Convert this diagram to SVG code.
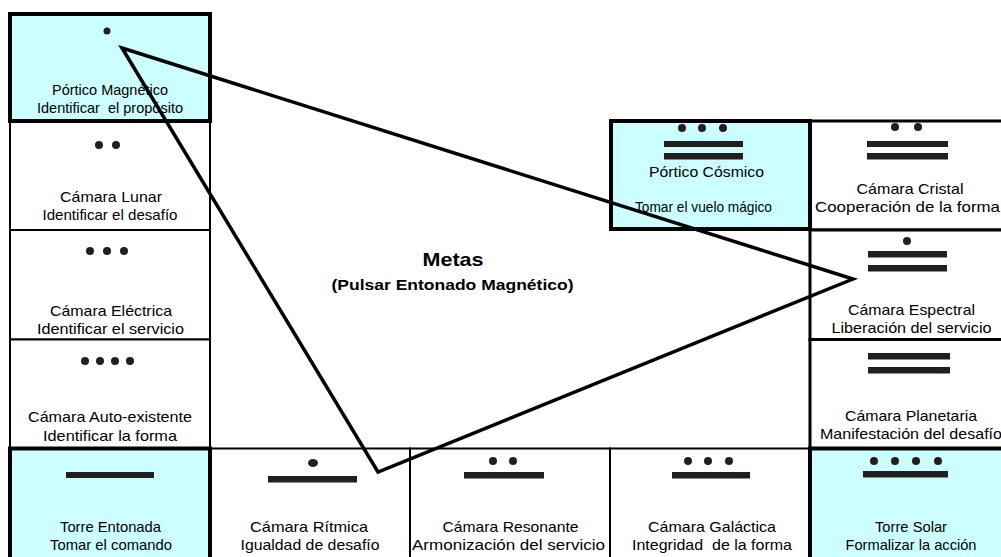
<svg xmlns="http://www.w3.org/2000/svg" width="1001" height="557" viewBox="0 0 1001 557">
<style>
.cell{fill:#ffffff;stroke:#000;stroke-width:2}
.rc{fill:#ffffff;stroke:#000;stroke-width:3}
.hi{fill:#ccffff;stroke:#000;stroke-width:4}
.d{fill:#231f20}
.t{font-family:"Liberation Sans",Arial,sans-serif;font-size:15px;fill:#000;text-anchor:middle}
.b{font-family:"Liberation Sans",Arial,sans-serif;font-weight:bold;fill:#000;text-anchor:middle}
.conn{fill:none;stroke:#000;stroke-width:3.5;stroke-linejoin:miter}
</style>
<rect x="0" y="0" width="1001" height="557" fill="#ffffff"/>

<g id="camara-lunar">
<rect class="cell" x="10" y="121" width="200" height="109"/>
<circle class="d" cx="99" cy="145" r="4"/><circle class="d" cx="116" cy="145" r="4"/>
<text class="t" x="111" y="202" textLength="102" lengthAdjust="spacingAndGlyphs">Cámara Lunar</text>
<text class="t" x="110" y="220" textLength="135" lengthAdjust="spacingAndGlyphs">Identificar el desafío</text>
</g>
<g id="camara-electrica">
<rect class="cell" x="10" y="230" width="200" height="109.5"/>
<circle class="d" cx="90" cy="251" r="4"/><circle class="d" cx="107" cy="251" r="4"/><circle class="d" cx="124" cy="251" r="4"/>
<text class="t" x="111" y="315.5" textLength="122" lengthAdjust="spacingAndGlyphs">Cámara Eléctrica</text>
<text class="t" x="110.5" y="333.5" textLength="147" lengthAdjust="spacingAndGlyphs">Identificar el servicio</text>
</g>
<g id="camara-auto-existente">
<rect class="cell" x="10" y="339.5" width="200" height="109"/>
<circle class="d" cx="85" cy="361" r="4"/><circle class="d" cx="100" cy="361" r="4"/><circle class="d" cx="115" cy="361" r="4"/><circle class="d" cx="130" cy="361" r="4"/>
<text class="t" x="110" y="422" textLength="164" lengthAdjust="spacingAndGlyphs">Cámara Auto-existente</text>
<text class="t" x="110" y="440.5" textLength="134" lengthAdjust="spacingAndGlyphs">Identificar la forma</text>
</g>
<g id="camara-ritmica">
<rect class="cell" x="210" y="448.5" width="200" height="112"/>
<ellipse class="d" cx="313" cy="463" rx="5" ry="4"/>
<rect class="d" x="268" y="476" width="89" height="6.5"/>
<text class="t" x="309" y="531.5" textLength="118" lengthAdjust="spacingAndGlyphs">Cámara Rítmica</text>
<text class="t" x="310" y="550" textLength="139" lengthAdjust="spacingAndGlyphs">Igualdad de desafío</text>
</g>
<g id="camara-resonante">
<rect class="cell" x="410" y="448.5" width="200" height="112"/>
<circle class="d" cx="493" cy="461" r="4"/><circle class="d" cx="513" cy="461" r="4"/>
<rect class="d" x="464" y="472" width="80" height="6.5"/>
<text class="t" x="510.5" y="531.5" textLength="136" lengthAdjust="spacingAndGlyphs">Cámara Resonante</text>
<text class="t" x="508.5" y="550" textLength="193" lengthAdjust="spacingAndGlyphs">Armonización del servicio</text>
</g>
<g id="camara-galactica">
<rect class="cell" x="610" y="448.5" width="200" height="112"/>
<circle class="d" cx="688" cy="461" r="4"/><circle class="d" cx="708" cy="461" r="4"/><circle class="d" cx="729" cy="461" r="4"/>
<rect class="d" x="672" y="472" width="78" height="6.5"/>
<text class="t" x="712" y="531.5" textLength="128" lengthAdjust="spacingAndGlyphs">Cámara Galáctica</text>
<text class="t" x="712" y="550" textLength="160" lengthAdjust="spacingAndGlyphs" xml:space="preserve">Integridad  de la forma</text>
</g>
<g id="camara-cristal">
<rect class="rc" x="810" y="121" width="200" height="109"/>
<circle class="d" cx="895" cy="127" r="4"/><circle class="d" cx="918" cy="127" r="4"/>
<rect class="d" x="867" y="141" width="81" height="6"/>
<rect class="d" x="867" y="153" width="81" height="6.5"/>
<text class="t" x="910" y="193.5" textLength="107" lengthAdjust="spacingAndGlyphs">Cámara Cristal</text>
<text class="t" x="907.5" y="211.5" textLength="185" lengthAdjust="spacingAndGlyphs">Cooperación de la forma</text>
</g>
<g id="camara-espectral">
<rect class="rc" x="810" y="230" width="200" height="109.5"/>
<circle class="d" cx="907" cy="241" r="4"/>
<rect class="d" x="868" y="251" width="79" height="6.5"/>
<rect class="d" x="868" y="265" width="79" height="6.5"/>
<text class="t" x="911.5" y="315" textLength="127" lengthAdjust="spacingAndGlyphs">Cámara Espectral</text>
<text class="t" x="911.5" y="333" textLength="160" lengthAdjust="spacingAndGlyphs">Liberación del servicio</text>
</g>
<g id="camara-planetaria">
<rect class="rc" x="810" y="339.5" width="200" height="109"/>
<rect class="d" x="868" y="353" width="82" height="6.5"/>
<rect class="d" x="868" y="367" width="82" height="6.5"/>
<text class="t" x="911" y="421" textLength="132" lengthAdjust="spacingAndGlyphs">Cámara Planetaria</text>
<text class="t" x="911" y="439" textLength="182" lengthAdjust="spacingAndGlyphs">Manifestación del desafío</text>
</g>

<g id="portico-magnetico">
<rect class="hi" x="10" y="14" width="200" height="107"/>
<circle class="d" cx="107" cy="31" r="3.5"/>
<text class="t" x="110" y="94.5" textLength="116" lengthAdjust="spacingAndGlyphs">Pórtico Magnético</text>
<text class="t" x="110" y="112.5" textLength="146" lengthAdjust="spacingAndGlyphs" xml:space="preserve">Identificar  el propósito</text>
</g>
<g id="torre-entonada">
<rect class="hi" x="10" y="448.5" width="200" height="112"/>
<rect class="d" x="66" y="472" width="88" height="6"/>
<text class="t" x="110.5" y="531.5" textLength="101" lengthAdjust="spacingAndGlyphs">Torre Entonada</text>
<text class="t" x="111" y="550" textLength="122" lengthAdjust="spacingAndGlyphs">Tomar el comando</text>
</g>
<g id="portico-cosmico">
<rect class="hi" x="611" y="121" width="199" height="108"/>
<circle class="d" cx="682" cy="128" r="4"/><circle class="d" cx="702" cy="128" r="4"/><circle class="d" cx="723" cy="128" r="4"/>
<rect class="d" x="664" y="141" width="79" height="6"/>
<rect class="d" x="664" y="153" width="79" height="6.5"/>
<text class="t" x="706.5" y="176.5" textLength="115" lengthAdjust="spacingAndGlyphs">Pórtico Cósmico</text>
<text class="t" x="703.5" y="211.5" textLength="137" lengthAdjust="spacingAndGlyphs">Tomar el vuelo mágico</text>
</g>
<g id="torre-solar">
<rect class="hi" x="810" y="448.5" width="200" height="112"/>
<circle class="d" cx="874" cy="461" r="4"/><circle class="d" cx="895" cy="461" r="4"/><circle class="d" cx="916" cy="461" r="4"/><circle class="d" cx="938" cy="461" r="4"/>
<rect class="d" x="863" y="471" width="85" height="6.5"/>
<text class="t" x="911" y="531.5" textLength="72" lengthAdjust="spacingAndGlyphs">Torre Solar</text>
<text class="t" x="911" y="550" textLength="131" lengthAdjust="spacingAndGlyphs">Formalizar la acción</text>
</g>

<g id="metas">
<text class="b" x="453" y="266" font-size="19" textLength="61" lengthAdjust="spacingAndGlyphs">Metas</text>
<text class="b" x="452.5" y="290" font-size="15" textLength="242" lengthAdjust="spacingAndGlyphs">(Pulsar Entonado Magnético)</text>
</g>

<g id="connectors">
<polygon class="conn" points="122,48 853,279 378,472"/>
</g>
</svg>
